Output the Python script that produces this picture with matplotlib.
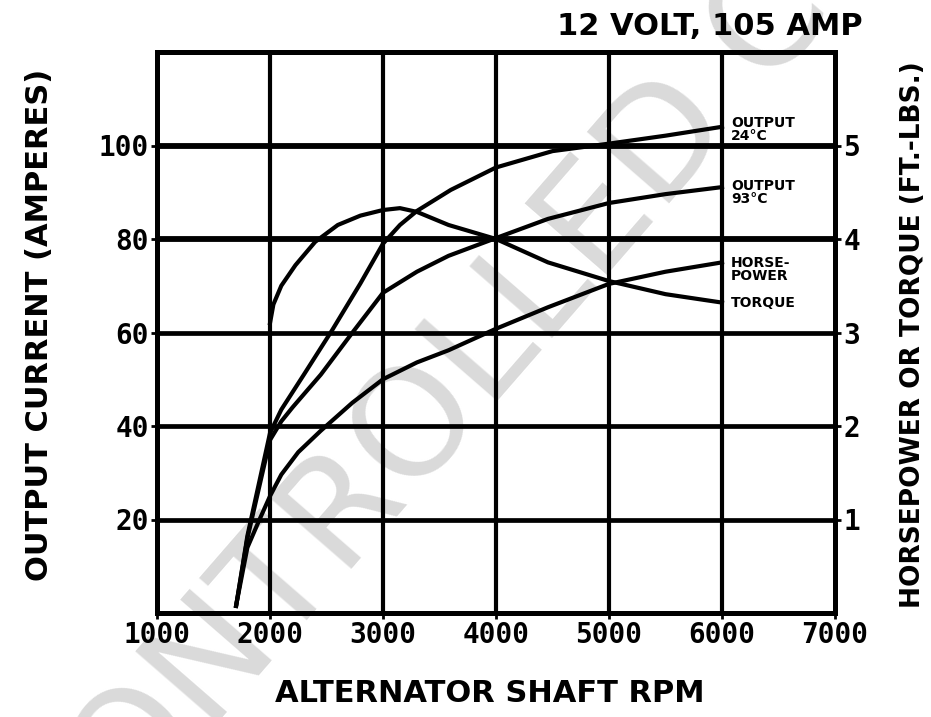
import matplotlib
matplotlib.use("Agg")
import matplotlib.pyplot as plt

# alternator output current (amperes), left axis
rpm_24 = [1700, 1800, 1900, 2000, 2100, 2300, 2550, 2800, 3000, 3150, 3300, 3600, 4000, 4500, 5000, 5500, 6000]
out_24 = [1.5, 16.5, 27.5, 38.5, 43.5, 51, 60.5, 70.5, 79, 83, 86, 90.5, 95.3, 98.8, 100.4, 102.1, 104]

rpm_93 = [1700, 1800, 1900, 2000, 2100, 2200, 2450, 2730, 3000, 3300, 3580, 4000, 4460, 5000, 5500, 6000]
out_93 = [1.5, 16, 26.5, 37, 41, 44, 51, 60, 68.5, 73, 76.4, 80.2, 84.3, 87.7, 89.6, 91.1]

# horsepower and torque (ft.-lbs.), right axis
rpm_hp = [1700, 1800, 1900, 2000, 2100, 2250, 2450, 2730, 3000, 3300, 3580, 4000, 4460, 5000, 5500, 6000]
horsepower = [0.08, 0.70, 0.98, 1.25, 1.48, 1.72, 1.95, 2.25, 2.50, 2.68, 2.81, 3.04, 3.27, 3.52, 3.65, 3.75]

rpm_tq = [2000, 2030, 2100, 2225, 2400, 2600, 2800, 3000, 3150, 3300, 3580, 4000, 4460, 5000, 5500, 6000]
torque = [3.10, 3.30, 3.50, 3.72, 3.97, 4.15, 4.25, 4.31, 4.33, 4.29, 4.15, 4.00, 3.75, 3.55, 3.41, 3.32]

x_ticks = [1000, 2000, 3000, 4000, 5000, 6000, 7000]
amp_ticks = [20, 40, 60, 80, 100]
right_ticks = [1, 2, 3, 4, 5]

curve_labels = ["OUTPUT\n24°C", "OUTPUT\n93°C", "HORSE-\nPOWER", "TORQUE"]
label_y = [103.4, 89.9, 73.4, 66.4]

fig = plt.figure(figsize=(9.31, 7.17), dpi=100)
ax = fig.add_axes([157 / 931, 1 - 613 / 717, 678 / 931, 561 / 717])
ax.patch.set_visible(False)

# watermark behind everything
fig.text(515 / 931, 1 - 318 / 717, "CONTROLLED COPY", rotation=49, color="#dadada",
         fontsize=108, family="DejaVu Sans", ha="center", va="center",
         rotation_mode="anchor", zorder=-5)

ax.set_xlim(1000, 7000)
ax.set_ylim(0, 120)

for x in x_ticks[1:-1]:
    ax.axvline(x, color="black", lw=3.0, zorder=1)
for y in amp_ticks:
    ax.axhline(y, color="black", lw=4.2 if y >= 80 else 3.4, zorder=1)

for s in ax.spines.values():
    s.set_linewidth(3.6)

tick_font = dict(family="DejaVu Sans Mono", weight="bold", size=20)
ax.set_xticks(x_ticks)
ax.set_xticklabels([str(v) for v in x_ticks], **tick_font)
ax.set_yticks(amp_ticks)
ax.set_yticklabels([str(v) for v in amp_ticks], **tick_font)
ax.tick_params(axis="both", length=4, width=2, pad=2)

ax.plot(rpm_24, out_24, color="black", lw=3.0, zorder=3)
ax.plot(rpm_93, out_93, color="black", lw=3.0, zorder=3)

ax2 = ax.twinx()
ax2.set_ylim(0, 6)
ax2.set_yticks(right_ticks)
ax2.set_yticklabels([str(v) for v in right_ticks], **tick_font)
ax2.tick_params(axis="y", length=4, width=2, pad=2)
for s in ax2.spines.values():
    s.set_linewidth(3.6)
ax2.plot(rpm_hp, horsepower, color="black", lw=3.0)
ax2.plot(rpm_tq, torque, color="black", lw=3.0)

for txt, y in zip(curve_labels, label_y):
    ax.text(6080, y, txt, fontsize=10, weight="heavy", family="DejaVu Sans",
            ha="left", va="center", linespacing=0.9, zorder=4)

label_font = dict(family="DejaVu Sans", weight="bold", fontsize=22)
fig.text(863 / 931, 1 - 35 / 717, "12 VOLT, 105 AMP", ha="right", va="baseline", **label_font)
fig.text(490 / 931, 1 - 693 / 717, "ALTERNATOR SHAFT RPM", ha="center", va="center", **label_font)
fig.text(40 / 931, 1 - 325 / 717, "OUTPUT CURRENT (AMPERES)", rotation=90,
         ha="center", va="center", **label_font)
fig.text(913 / 931, 1 - 335 / 717, "HORSEPOWER OR TORQUE (FT.-LBS.)", rotation=90,
         ha="center", va="center", family="DejaVu Sans", weight="bold", fontsize=19)

fig.savefig("out.png", dpi=100)
